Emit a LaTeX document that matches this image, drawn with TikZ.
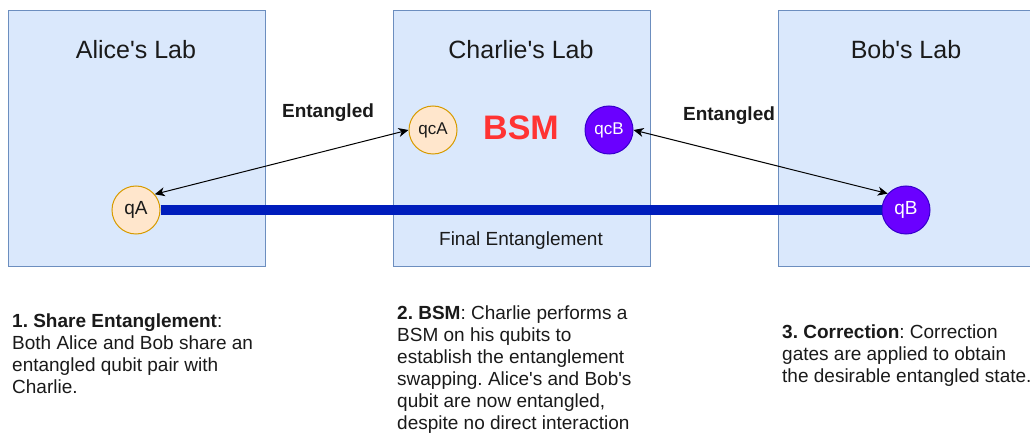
\documentclass[tikz,border=0pt]{standalone}
\usepackage{fontspec}
\setmainfont{Liberation Sans}
\usetikzlibrary{arrows.meta}
\definecolor{labfill}{HTML}{DAE8FC}
\definecolor{labline}{HTML}{6C8EBF}
\definecolor{peachfill}{HTML}{FFE6CC}
\definecolor{peachline}{HTML}{D79B00}
\definecolor{violetfill}{HTML}{6A00FF}
\definecolor{violetline}{HTML}{3700CC}
\definecolor{linkblue}{HTML}{001DBC}
\definecolor{bsmred}{HTML}{FF3333}
\definecolor{txt}{HTML}{1A1A1A}
\newcommand{\sq}{\textquotesingle}
\frenchspacing
\begin{document}
\begin{tikzpicture}[x=1pt,y=-1pt,
  lab/.style={draw=labline, fill=labfill, line width=1pt, minimum width=257pt, minimum height=256pt, inner sep=0pt, anchor=north west},
  labtitle/.style={font=\fontsize{25}{28}\selectfont, text=txt, inner sep=0pt},
  qlight/.style={circle, draw=peachline, fill=peachfill, line width=1pt, minimum size=48pt, inner sep=0pt, text=txt},
  qdark/.style={circle, draw=violetline, fill=violetfill, line width=1pt, minimum size=48pt, inner sep=0pt, text=white},
  elabel/.style={font=\fontsize{19}{22}\selectfont\bfseries, text=txt, inner sep=0pt},
  bsmlabel/.style={font=\fontsize{34}{38}\selectfont\bfseries, text=bsmred, inner sep=0pt},
  finlabel/.style={font=\fontsize{19}{22}\selectfont, text=txt, inner sep=0pt},
  note/.style={anchor=north west, inner sep=0pt, align=left, font=\fontsize{19}{22}\selectfont\frenchspacing, text=txt},
  link/.style={draw=linkblue, line width=10pt},
  entarrow/.style={draw=black, line width=1pt, {Stealth[length=10pt,width=9pt,inset=3pt]}-{Stealth[length=10pt,width=9pt,inset=3pt]}}
]
\fill[white] (0,0) rectangle (1030,438);
\useasboundingbox (0,0) rectangle (1030,438);

\node[lab] (alice) at (8,10) {};
\node[lab] (charlie) at (393,10) {};
\node[lab] (bob) at (778,10) {};

\node[labtitle] (alicet) at (136,50) {Alice\sq s Lab};
\node[labtitle] (charliet) at (521,50) {Charlie\sq s Lab};
\node[labtitle] (bobt) at (906,50) {Bob\sq s Lab};

\node[qlight, font=\fontsize{19}{22}\selectfont] (qA) at (136,210) {qA};
\node[qlight, font=\fontsize{17}{20}\selectfont] (qcA) at (433,130) {qcA};
\node[qdark, font=\fontsize{17}{20}\selectfont] (qcB) at (609,130) {qcB};
\node[qdark, font=\fontsize{19}{22}\selectfont] (qB) at (906,210) {qB};

\draw[link] (qA.east) -- (qB.west);

\node[bsmlabel] (bsm) at (521,128) {BSM};
\node[elabel] (ent1) at (328,113) {Entangled};
\node[elabel] (ent2) at (729,116) {Entangled};
\node[finlabel] (final) at (521,241) {Final Entanglement};

\draw[entarrow] (qA.40) -- (qcA.west);
\draw[entarrow] (qcB.east) -- (qB.138);

\node[note] (n1) at (12,314) {\textbf{1. Share Entanglement}:\\Both Alice and Bob share an\\entangled qubit pair with\\Charlie.};
\node[note] (n2) at (397,306) {\textbf{2. BSM}: Charlie performs a\\BSM on his qubits to\\establish the entanglement\\swapping. Alice\sq s and Bob\sq s\\qubit are now entangled,\\despite no direct interaction};
\node[note] (n3) at (782,325) {\textbf{3. Correction}: Correction\\gates are applied to obtain\\the desirable entangled state.};
\end{tikzpicture}
\end{document}
